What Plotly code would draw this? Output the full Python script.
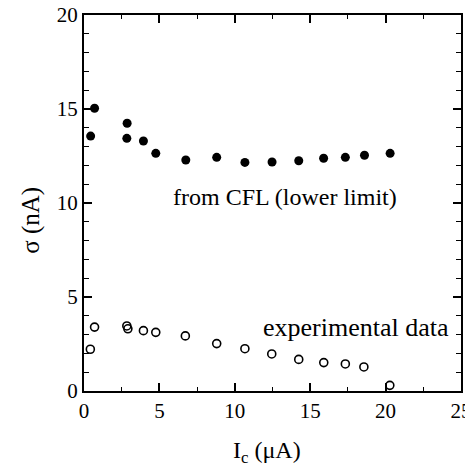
import plotly.graph_objects as go

# Filled circles: "from CFL (lower limit)"
cfl_x = [0.44, 0.70, 2.86, 2.84, 3.94, 4.76, 6.75, 8.8, 10.67, 12.47, 14.24, 15.89, 17.33, 18.6, 20.3]
cfl_y = [13.56, 15.04, 14.24, 13.44, 13.30, 12.64, 12.29, 12.43, 12.16, 12.18, 12.25, 12.38, 12.43, 12.54, 12.64]

# Open circles: "experimental data"
exp_x = [0.42, 0.70, 2.84, 2.91, 3.94, 4.76, 6.72, 8.8, 10.67, 12.45, 14.24, 15.9, 17.33, 18.56, 20.28]
exp_y = [2.22, 3.40, 3.46, 3.31, 3.21, 3.12, 2.93, 2.52, 2.25, 1.97, 1.68, 1.51, 1.44, 1.28, 0.30]

x_ticks = [0, 5, 10, 15, 20, 25]
y_ticks = [0, 5, 10, 15, 20]

FONT = "Liberation Serif, Times New Roman, serif"

fig = go.Figure()
fig.add_trace(go.Scatter(x=cfl_x, y=cfl_y, mode="markers",
                         marker=dict(symbol="circle", size=9, color="black"),
                         showlegend=False))
fig.add_trace(go.Scatter(x=exp_x, y=exp_y, mode="markers",
                         marker=dict(symbol="circle-open", size=8, color="black",
                                     line=dict(width=1.6, color="black")),
                         showlegend=False))

axis_common = dict(showgrid=False, zeroline=False, showline=True, linecolor="black",
                   linewidth=2, mirror="allticks", ticks="inside", ticklen=8,
                   tickwidth=1.5, tickcolor="black", automargin=False,
                   ticklabeloverflow="allow",
                   tickfont=dict(family=FONT, size=21, color="black"))

fig.update_xaxes(range=[0, 25], tickvals=x_ticks, ticktext=[str(v) for v in x_ticks],
                 minor=dict(ticks="inside", ticklen=4, tickwidth=1.2, dtick=2.5,
                            tick0=0, tickcolor="black", showgrid=False),
                 **axis_common)
fig.update_yaxes(range=[0, 20], tickvals=y_ticks, ticktext=[str(v) for v in y_ticks],
                 minor=dict(ticks="inside", ticklen=5, tickwidth=1.2, dtick=1,
                            tick0=0, tickcolor="black", showgrid=False),
                 **axis_common)

# axis titles placed as annotations (paper coords relative to the plot area)
fig.add_annotation(text="I<sub>c</sub> (μA)", x=0.4867, y=-0.162,
                   xref="paper", yref="paper", showarrow=False,
                   font=dict(family=FONT, size=24, color="black"),
                   xanchor="center", yanchor="middle")
fig.add_annotation(text="σ (nA)", x=-0.141, y=0.455, textangle=-90,
                   xref="paper", yref="paper", showarrow=False,
                   font=dict(family=FONT, size=25, color="black"),
                   xanchor="center", yanchor="middle")

fig.add_annotation(text="from CFL (lower limit)", x=(285 - 84) / 377, y=(391 - 197) / 376,
                   xref="paper", yref="paper", showarrow=False,
                   font=dict(family=FONT, size=24, color="black"),
                   xanchor="center", yanchor="middle")
fig.add_annotation(text="experimental data", x=(356 - 84) / 377, y=(391 - 327) / 376,
                   xref="paper", yref="paper", showarrow=False,
                   font=dict(family=FONT, size=26, color="black"),
                   xanchor="center", yanchor="middle")

fig.update_layout(width=465, height=458, plot_bgcolor="white", paper_bgcolor="white",
                  margin=dict(l=76, r=12, t=7, b=75),
                  font=dict(family=FONT, color="black"))

fig.write_html("out.html")
